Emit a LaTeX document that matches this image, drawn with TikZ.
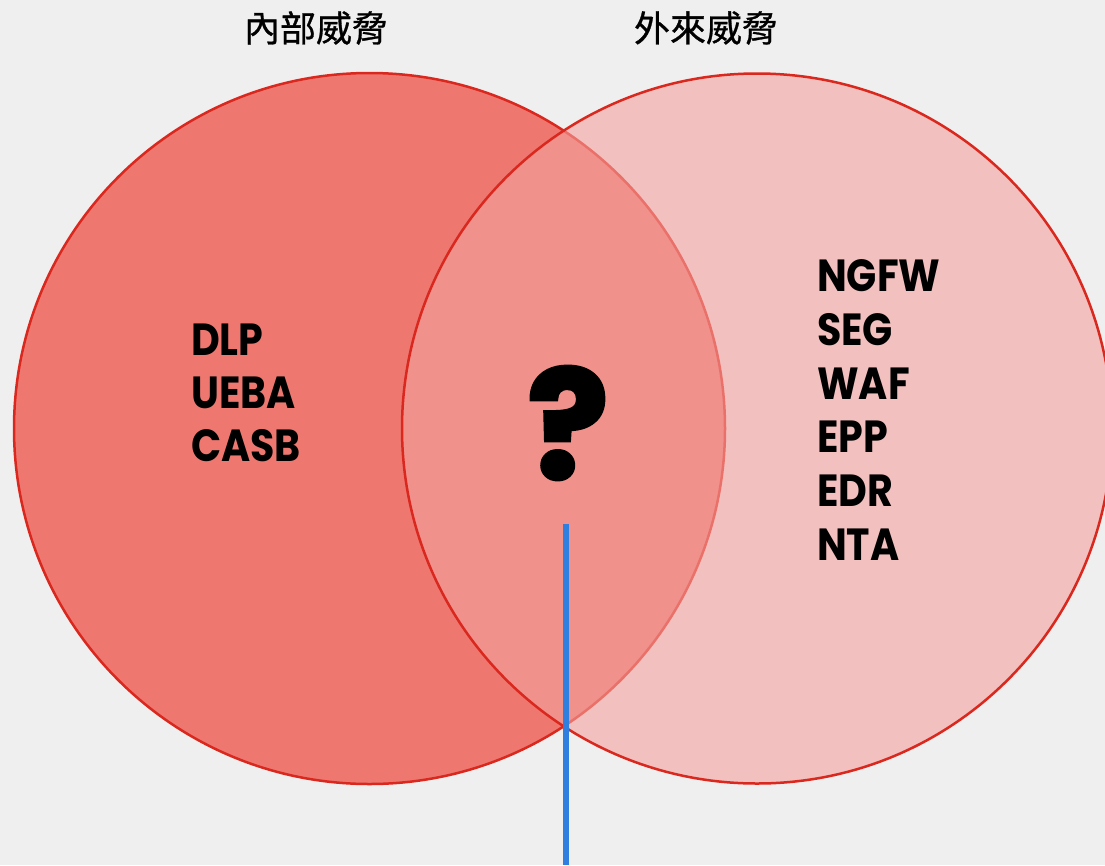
\documentclass[tikz,border=0pt]{standalone}
\usepackage{fontspec}
\setmainfont{Poppins}
\newfontfamily\cjk[FakeBold=0.8]{Noto Sans CJK TC}
\newfontfamily\lbl[FakeStretch=0.88]{Poppins}
\newfontfamily\qfont[FakeBold=3]{Poppins}
\definecolor{bgc}{RGB}{239,239,239}
\definecolor{leftfill}{RGB}{238,120,112}
\definecolor{rightfill}{RGB}{244,162,158}
\definecolor{edgered}{RGB}{218,40,30}
\definecolor{lineblue}{RGB}{47,127,224}
\tikzset{
  circ/.style={draw=edgered, line width=2.5pt},
  title/.style={font=\cjk\fontsize{36}{42}\selectfont, text=black, inner sep=0pt},
  item/.style={font=\lbl\bfseries\fontsize{45}{53}\selectfont, text=black, inner sep=0pt, anchor=base west},
  qmark/.style={font=\qfont\bfseries\fontsize{150}{150}\selectfont, text=black, inner sep=0pt},
  conn/.style={draw=lineblue, line width=6pt}
}
\begin{document}
\begin{tikzpicture}[x=1pt,y=-1pt]
\fill[bgc] (0,0) rectangle (1105,865);
\useasboundingbox (0,0) rectangle (1105,865);
\draw[circ, fill=leftfill] (369.5,428.5) circle[radius=355.5];
\draw[circ, fill=rightfill, fill opacity=0.6] (757,428.5) circle[radius=355];
\node[title] (tin) at (316,28) {內部威脅};
\node[title] (tout) at (706,28) {外來威脅};
\node[item] (l1) at (191,355) {DLP};
\node[item] (l2) at (191,408) {UEBA};
\node[item] (l3) at (191,461) {CASB};
\node[item] (r1) at (817,291) {NGFW};
\node[item] (r2) at (817,345) {SEG};
\node[item] (r3) at (817,399) {WAF};
\node[item] (r4) at (817,452) {EPP};
\node[item] (r5) at (817,506) {EDR};
\node[item] (r6) at (817,560) {NTA};
\node[qmark] (q) at (568,423) {?};
\coordinate (qa) at (566,524);
\coordinate (qb) at (566,865);
\draw[conn] (qa) -- (qb);
\end{tikzpicture}
\end{document}
